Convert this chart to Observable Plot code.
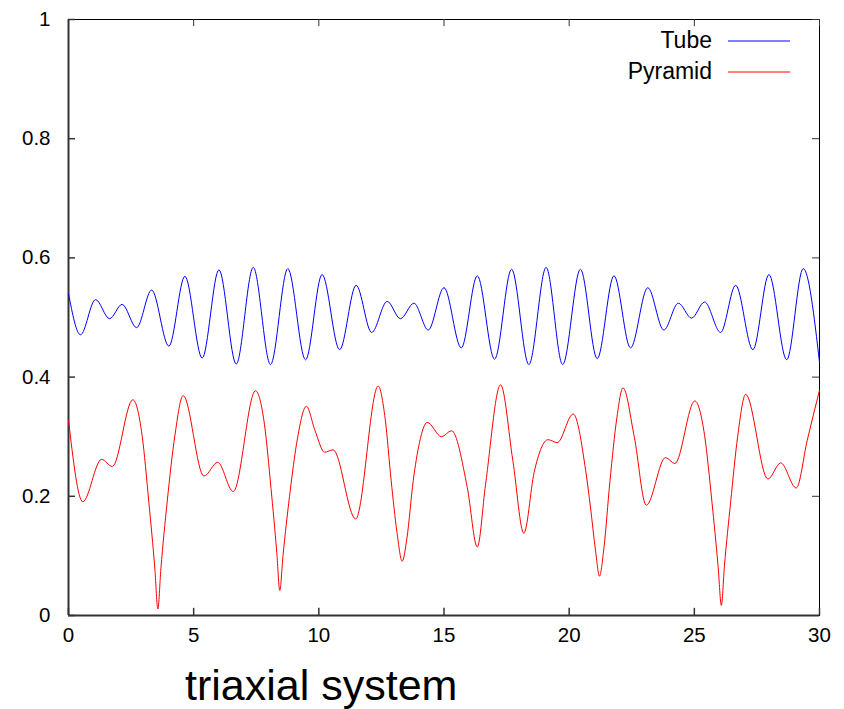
<!DOCTYPE html>
<html><head><meta charset="utf-8">
<script src="https://cdn.jsdelivr.net/npm/d3@7"></script>
<script src="https://cdn.jsdelivr.net/npm/@observablehq/plot@0.6"></script>
<style>body{margin:0;background:#fff} svg{display:block}</style>
</head><body><div id="chart"></div><script>
const tubeX = [0,0.48,1.08,1.64,2.14,2.72,3.32,4.01,4.65,5.34,6.01,6.70,7.38,8.07,8.76,9.47,10.13,10.83,11.49,12.11,12.73,13.26,13.80,14.37,15.00,15.69,16.33,17.02,17.70,18.39,19.08,19.74,20.45,21.12,21.79,22.45,23.14,23.78,24.36,24.89,25.41,26.05,26.65,27.34,27.98,28.69,29.35,30];
const tubeY = [0.540,0.471,0.530,0.498,0.522,0.483,0.546,0.452,0.569,0.432,0.580,0.422,0.584,0.421,0.582,0.429,0.572,0.446,0.554,0.475,0.527,0.498,0.524,0.479,0.550,0.449,0.570,0.430,0.581,0.421,0.584,0.421,0.581,0.431,0.570,0.449,0.550,0.479,0.524,0.499,0.526,0.475,0.554,0.446,0.572,0.429,0.582,0.425];
const pyrX = [0,0.57,1.32,1.75,2.57,2.94,3.21,3.45,3.57,3.69,3.94,4.25,4.58,5.41,5.96,6.58,7.47,7.83,8.09,8.32,8.44,8.57,8.83,9.15,9.50,9.85,10.23,10.57,11.47,12.37,12.65,12.89,13.12,13.33,13.52,13.77,14.02,14.33,14.90,15.30,15.93,16.33,16.66,17.26,17.75,18.19,18.60,19.16,19.52,20.16,20.66,20.85,21.05,21.21,21.38,21.63,21.90,22.15,22.60,23.08,23.85,24.22,25.02,25.41,25.70,25.95,26.08,26.20,26.45,26.73,27.05,27.94,28.45,29.07,29.51,30];
const pyrY = [0.328,0.191,0.262,0.250,0.362,0.302,0.190,0.078,0.011,0.078,0.190,0.302,0.369,0.234,0.257,0.208,0.377,0.320,0.213,0.106,0.042,0.101,0.200,0.298,0.351,0.310,0.274,0.278,0.162,0.385,0.330,0.226,0.140,0.091,0.130,0.226,0.290,0.324,0.300,0.310,0.215,0.115,0.220,0.387,0.260,0.138,0.240,0.295,0.290,0.338,0.243,0.182,0.110,0.066,0.110,0.226,0.330,0.382,0.300,0.185,0.265,0.255,0.360,0.302,0.192,0.082,0.017,0.082,0.190,0.300,0.371,0.229,0.256,0.214,0.294,0.378];
const xTicks = [0,5,10,15,20,25,30];
const yTicks = [0,0.2,0.4,0.6,0.8,1];
const yTickLabels = ["0","0.2","0.4","0.6","0.8","1"];
const seriesNames = ["Tube","Pyramid"];
const seriesColors = ["#0000ff","#ff0000"];
const xLabel = "triaxial system";

const data = [
  ...tubeX.map((x,i)=>({x, y:tubeY[i], s:seriesNames[0]})),
  ...pyrX.map((x,i)=>({x, y:pyrY[i], s:seriesNames[1]}))
];
const font = "'Liberation Sans', Arial, sans-serif";
const plot = Plot.plot({
  width:844, height:709, marginLeft:68, marginRight:25, marginTop:19, marginBottom:94,
  style:{fontFamily:font, fontSize:"20.5px", color:"#000", background:"#fff"},
  x:{domain:[0,30]},
  y:{domain:[0,1]},
  color:{domain:seriesNames, range:seriesColors},
  marks:[
    Plot.frame({stroke:"#000", strokeWidth:1}),
    Plot.axisX({ticks:xTicks, tickSize:0, tickPadding:12, label:null, fontSize:20.5}),
    Plot.axisY({ticks:yTicks, tickFormat:(d,i)=>yTickLabels[i], tickSize:0, tickPadding:18, label:null, fontSize:20.5}),
    // inward ticks on all four sides
    Plot.ruleX(xTicks, {y1:0, y2:0.012, stroke:"#333", strokeWidth:1.5}),
    Plot.ruleX(xTicks, {y1:1, y2:0.988, stroke:"#333", strokeWidth:1}),
    Plot.ruleY(yTicks, {x1:0, x2:0.28, stroke:"#333", strokeWidth:1.5}),
    Plot.ruleY(yTicks, {x1:30, x2:29.72, stroke:"#333", strokeWidth:1}),
    Plot.ruleX([0], {stroke:"#333", strokeWidth:2}),
    Plot.ruleY([0], {stroke:"#333", strokeWidth:2}),
    Plot.line(data, {x:"x", y:"y", stroke:"s", z:"s", curve:"monotone-x", strokeWidth:1})
  ]
});
const svg = d3.select(plot);
const lg = svg.append("g").attr("font-family", font).attr("font-size", 23);
seriesNames.forEach((name, i) => {
  const cy = [41, 72][i];
  lg.append("text").attr("x", 712).attr("y", cy + 7).attr("text-anchor","end").attr("fill","#000").text(name);
  lg.append("line").attr("x1", 728).attr("x2", 790).attr("y1", cy).attr("y2", cy).attr("stroke", seriesColors[i]).attr("stroke-width", 1);
});
svg.append("text").attr("x", 185).attr("y", 700).attr("text-anchor","start").attr("font-family", font).attr("font-size", 43).attr("fill","#000").text(xLabel);
document.getElementById("chart").appendChild(plot);
</script></body></html>
